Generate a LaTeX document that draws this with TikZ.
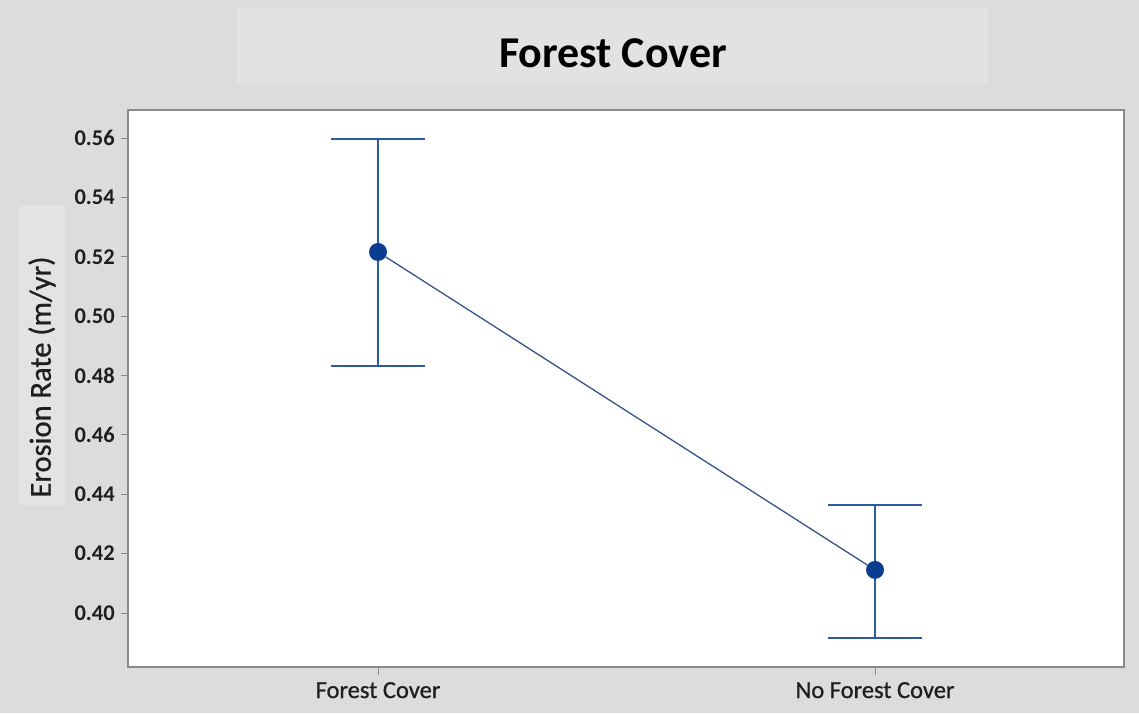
\documentclass[tikz,border=0pt]{standalone}
\usepackage{fontspec}
\setmainfont{Carlito}
\newfontfamily\semib[FakeBold=0.8]{Carlito}
\definecolor{bgray}{HTML}{DCDCDC}
\definecolor{panelgray}{HTML}{E2E2E2}
\definecolor{ylabgray}{HTML}{E3E3E3}
\definecolor{framegray}{HTML}{8A8A8A}
\definecolor{barblue}{HTML}{2C5AA0}
\definecolor{linkblue}{HTML}{34558A}
\definecolor{dotblue}{HTML}{0A3D91}
\definecolor{textdark}{HTML}{1E1E1E}
\newcommand{\yval}[1]{138+(0.56-#1)*2968.75}
\begin{document}
\begin{tikzpicture}[x=1pt,y=-1pt,
  ticklab/.style={anchor=east,font=\fontsize{22.5}{24}\selectfont\bfseries,text=textdark,inner sep=0pt},
  xlab/.style={anchor=base,font=\semib\fontsize{24.5}{26}\selectfont,text=textdark,inner sep=0pt},
  tickline/.style={draw=framegray,line width=1pt},
  ebar/.style={draw=barblue,line width=2pt},
  dotmark/.style={circle,fill=dotblue,inner sep=0pt,minimum size=18pt},
  linkline/.style={draw=linkblue,line width=1.3pt}]
\useasboundingbox (0,0) rectangle (1139,713);
\fill[bgray] (0,0) rectangle (1139,713);
\fill[panelgray] (237,8) rectangle (988,85);
\fill[ylabgray] (18,205) rectangle (65,505);
\node[font=\fontsize{44}{48}\selectfont\bfseries,anchor=base,inner sep=0pt] (title) at (613,67) {Forest Cover};
\node[font=\semib\fontsize{30.5}{32}\selectfont,rotate=90,inner sep=0pt,text=textdark] (ylab) at (42,377) {Erosion Rate (m/yr)};
% plot frame
\fill[white] (128,110) rectangle (1124,667);
\draw[framegray,line width=1.5pt] (128,110) rectangle (1124,667);
% y ticks
\foreach \v/\t in {0.40/0.40,0.42/0.42,0.44/0.44,0.46/0.46,0.48/0.48,0.50/0.50,0.52/0.52,0.54/0.54,0.56/0.56}{
  \draw[tickline] (121,{\yval{\v}}) -- (128,{\yval{\v}});
  \node[ticklab] (yt\t) at (115,{\yval{\v}}) {\t};
}
% x ticks
\draw[tickline] (378,667) -- (378,675);
\draw[tickline] (875,667) -- (875,675);
\node[xlab] (xl1) at (378,698) {Forest Cover};
\node[xlab] (xl2) at (875,698) {No Forest Cover};
% error bars
\coordinate (u1) at (378,{\yval{0.5597}});
\coordinate (l1) at (378,{\yval{0.4832}});
\coordinate (u2) at (875,{\yval{0.4364}});
\coordinate (l2) at (875,{\yval{0.3916}});
\draw[ebar] (u1) -- (l1);
\draw[ebar] ([xshift=-47pt]u1) -- ([xshift=47pt]u1);
\draw[ebar] ([xshift=-47pt]l1) -- ([xshift=47pt]l1);
\draw[ebar] (u2) -- (l2);
\draw[ebar] ([xshift=-47pt]u2) -- ([xshift=47pt]u2);
\draw[ebar] ([xshift=-47pt]l2) -- ([xshift=47pt]l2);
\node[dotmark] (p1) at (378,{\yval{0.5216}}) {};
\node[dotmark] (p2) at (875,{\yval{0.4145}}) {};
\draw[linkline] (p1) -- (p2);
\end{tikzpicture}
\end{document}
